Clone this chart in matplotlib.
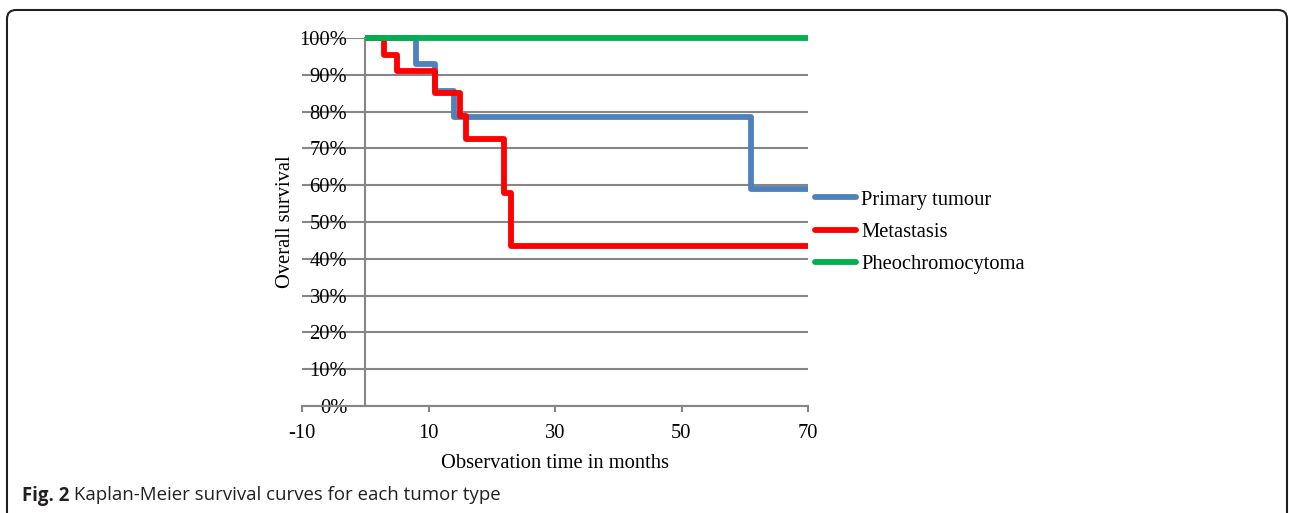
import matplotlib
matplotlib.use("Agg")
import matplotlib.pyplot as plt
from matplotlib.patches import FancyBboxPatch
from matplotlib.lines import Line2D
from matplotlib.transforms import IdentityTransform

# ---- data ----
primary_t = [0, 8, 11, 14, 61, 70]
primary_s = [100, 92.9, 85.7, 78.6, 58.9, 58.9]
metastasis_t = [0, 3, 5, 11, 15, 16, 22, 23, 70]
metastasis_s = [100, 95.5, 90.9, 85.1, 78.9, 72.5, 58.0, 43.5, 43.5]
pheo_t = [0, 70]
pheo_s = [100, 100]
series_names = ["Primary tumour", "Metastasis", "Pheochromocytoma"]
series_colors = ["#4F81BD", "#FF0000", "#00B050"]
x_ticks = [-10, 10, 30, 50, 70]
y_ticks = list(range(0, 101, 10))
caption_bold = "Fig. 2"
caption_text = " Kaplan-Meier survival curves for each tumor type"

serif = ["Liberation Serif", "DejaVu Serif"]
fs = 14.8
plt.rcParams["font.family"] = serif
plt.rcParams["font.size"] = fs

W, H = 1289, 513
fig = plt.figure(figsize=(W / 100, H / 100), dpi=100)

ax = fig.add_axes([302 / W, (H - 406) / H, (808 - 302) / W, (406 - 38) / H])
for s in ["top", "right"]:
    ax.spines[s].set_visible(False)
grid_c = "#868686"
ax.spines["left"].set_position(("data", 0))
ax.spines["left"].set_color(grid_c)
ax.spines["left"].set_linewidth(1.5)
ax.spines["bottom"].set_color(grid_c)
ax.spines["bottom"].set_linewidth(1.5)

ax.set_xlim(-10, 70)
ax.set_ylim(0, 100)
ax.set_yticks(y_ticks)
ax.set_yticklabels([f"{v}%" for v in y_ticks])
ax.set_xticks(x_ticks)
ax.set_xticklabels([str(v) for v in x_ticks])
ax.grid(axis="y", color=grid_c, linewidth=1.5, zorder=0)
ax.set_axisbelow(True)
ax.tick_params(axis="y", length=0, pad=13, labelsize=fs)
ax.tick_params(axis="x", length=4, width=1.5, color=grid_c, pad=9, labelsize=fs)

lw = 4.2
ts = [primary_t, metastasis_t, pheo_t]
ss = [primary_s, metastasis_s, pheo_s]
zs = [3, 4, 5]
for t, s, c, z in zip(ts, ss, series_colors, zs):
    ax.step(t, s, where="post", color=c, linewidth=lw, zorder=z,
            solid_joinstyle="round", solid_capstyle="butt", clip_on=False)

handles = [Line2D([0], [0], color=c, linewidth=lw, solid_capstyle="round")
           for c in series_colors]
fig.legend(handles, series_names, loc="center left",
           bbox_to_anchor=(815 / W, 1 - 232 / H), frameon=False,
           prop={"family": serif, "size": fs}, handlelength=2.0,
           handletextpad=0.25, labelspacing=0.62, borderpad=0, borderaxespad=0)

ax.set_ylabel("Overall survival", fontsize=fs)
ax.yaxis.set_label_coords((295 - 302) / 506, 0.5)
ax.set_xlabel("Observation time in months", fontsize=fs)
ax.xaxis.set_label_coords(0.5, (406 - 454) / 368)

# frame
frame = FancyBboxPatch((7, -30), 1280, 503 + 30, boxstyle="round,pad=0,rounding_size=9",
                       transform=IdentityTransform(), facecolor="none",
                       edgecolor="#231f20", linewidth=1.5, clip_on=False)
fig.patches.append(frame)

# caption
cap_fs = 13.4
t1 = fig.text(22 / W, (H - 500.5) / H, caption_bold, fontfamily="Open Sans",
              fontweight="bold", fontsize=cap_fs, color="#231f20", va="baseline")
fig.canvas.draw()
bb = t1.get_window_extent(fig.canvas.get_renderer())
fig.text(bb.x1 / W, (H - 500.5) / H, caption_text, fontfamily="Open Sans",
         fontsize=cap_fs, color="#231f20", va="baseline")

fig.savefig("out.png", dpi=100)
